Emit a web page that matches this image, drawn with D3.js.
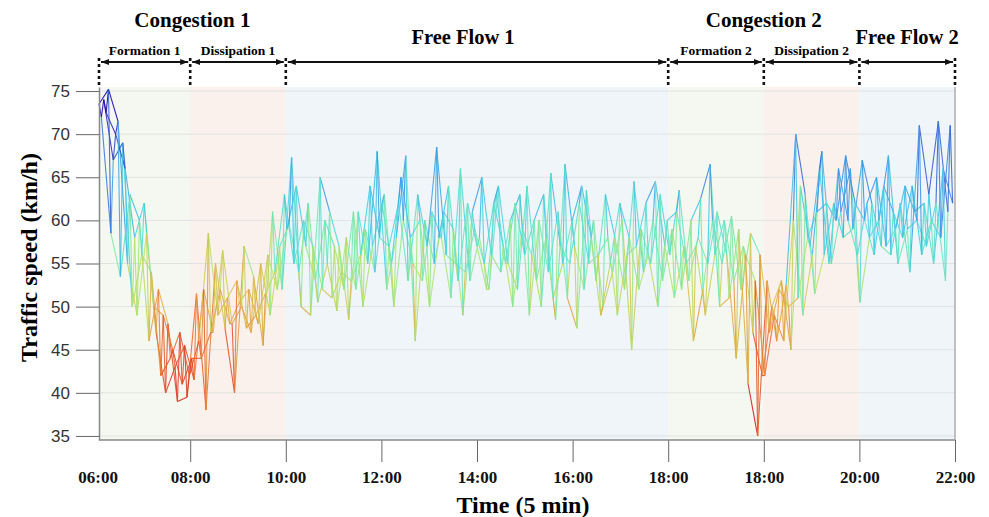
<!DOCTYPE html>
<html>
<head>
<meta charset="utf-8">
<script src="https://cdn.jsdelivr.net/npm/d3@7"></script>
<style>
body { margin: 0; background: #fff; }
</style>
</head>
<body>
<svg width="989" height="517"></svg>
<script>
// traffic speed (km/h) for four runs, one value per slot, 10 slots per tick interval
var run1 = [73.5,75.2,71.5,55,49,58.5,47,40,43,45.5, 41.5,52,47,56.5,48,50,47,55,49,57,
    59.5,54,62,50.5,55,49.5,58,52,59,54, 63,50,60,55,53,61,58,51,66,53,
    58,52,64,55,52,64,53,58,48.5,66.5, 57,52,60,50,54,60,45,59,55,63,
    56,63.5,53,58,55,61,56,44,56,53, 42,49,46,60,49,56,68,55,61,66,
    50.5,58,60,67.5,55,59,60,57,62,53];
var run2 = [72,58.5,53.5,63,60,46,52,48,39,39.5, 51.5,38,55,47.5,40,57,53.5,45.5,61,52,
    67.3,50,49,65,61,57,48.5,61,55,68, 52,58,67.5,46,60,55,61,59,49,61,
    65,56,54,60,63,49,60,54,61,51, 47.5,63.5,53,63,58,52,64.5,54,60,53,
    59,52,60,62.5,66.5,50,51,59,41,35, 53,46,52.5,70,63,51.5,56,62,58,59,
    67,62,57,56,62,54,71,63,71.5,61];
var run3 = [74,67,69,50,56,54,42,44,47,42, 46,58.5,49,51,53,47.5,49,51.5,54,63,
    55,60,57,52,51,54,53,56,64,58, 57,62,53,63,57,68.5,56,55,54,59,
    55,62,57,50,59,56,50,65.5,57,55, 62,55,56,58,49,56,57,62,64.5,57,
    51,57,46,52,60,55,60.5,52,58.5,56, 47,52,50,51,58,61,62,60,67.5,62,
    60,56,64,61,58,64,56,60,58,71];
var run4 = [72.5,70,66,58,62,50,49,45,41,44, 44,47,52,48,50.5,52,48,56,52,59,
    64,57,53,60,57,52,61,50,57,62, 55,65,58,60,50,58,64,53,62,57,
    52,63,55,62,56,60,63,51,55,60, 64,58,49,55,62,58,52,56,50,60,
    61,55,57,49,56,60,53,57,47,42, 50,53,45,64,57,66,55,66,60,56,
    62,65,57,59,64,61,62,55,66,62];

var timeLabels = ['06:00','08:00','10:00','12:00','14:00','16:00','18:00','18:00','20:00','22:00'];
var yTicks = [35, 40, 45, 50, 55, 60, 65, 70, 75];

var phaseNames = ['Formation 1','Dissipation 1','Free Flow 1','Formation 2','Dissipation 2','Free Flow 2'];
var phaseKinds = ['formation','dissipation','free','formation','dissipation','free'];
var phaseBounds = [0, 10, 20, 60, 70, 80, 90];
var groupNames = ['Congestion 1','Congestion 2'];
var groupBounds = [[0, 20], [60, 80]];

var svg = d3.select('svg');
var plotLeft = 99;
var xScale = d3.scaleLinear().domain([0, 90]).range([94.6, 955]);
var yScale = d3.scaleLinear().domain([34.53, 75.47]).range([440, 87]);
var plotRight = xScale.range()[1];
var plotTop = yScale.range()[1];
var plotBottom = yScale.range()[0];

// clamp a tick-unit position to the visible plot
function px(t) { return Math.max(plotLeft, xScale(t)); }

var bandFill = { formation: '#f4f8f1', dissipation: '#fbf1ec', free: '#eff5f9' };

// jet-like ramp, slow = red, fast = blue
var colorScale = d3.scaleLinear()
    .domain([38, 43, 47, 51, 54, 57, 60, 64, 70])
    .range(['#d01e1e','#e04428','#e87d36','#dcbc48','#aee46c','#6ee8b4','#40d2e4','#3a8ae0','#2a30c0']);

// background bands per phase
svg.append('g').selectAll('rect')
    .data(phaseNames)
    .enter().append('rect')
    .attr('x', (d, i) => px(phaseBounds[i]))
    .attr('y', plotTop)
    .attr('width', (d, i) => px(phaseBounds[i + 1]) - px(phaseBounds[i]))
    .attr('height', plotBottom - plotTop)
    .attr('fill', (d, i) => bandFill[phaseKinds[i]]);

// horizontal grid
svg.append('g').selectAll('line')
    .data(yTicks)
    .enter().append('line')
    .attr('x1', plotLeft).attr('x2', plotRight)
    .attr('y1', d => yScale(d)).attr('y2', d => yScale(d))
    .attr('stroke', '#e2e2e2').attr('stroke-width', 1);

// slot positions start at the left edge of the plot
var runs = [run1, run2, run3, run4];
var tStart = xScale.invert(plotLeft);
var slot = (90 - tStart) / run1.length;

// each run on its own, plus the runs threaded slot by slot
var segments = [];
runs.forEach(function(run, k) {
    var pts = run.map((v, i) => ({ t: tStart + (i + k / runs.length) * slot, v: v }));
    segments = segments.concat(d3.pairs(pts));
});
var threaded = [];
for (var i = 0; i < run1.length; i++) {
    for (var k = 0; k < runs.length; k++) {
        threaded.push({ t: tStart + (i + k / runs.length) * slot, v: runs[k][i] });
    }
}
segments = segments.concat(d3.pairs(threaded));

svg.append('g').selectAll('line')
    .data(segments)
    .enter().append('line')
    .attr('x1', d => xScale(d[0].t)).attr('y1', d => yScale(d[0].v))
    .attr('x2', d => xScale(d[1].t)).attr('y2', d => yScale(d[1].v))
    .attr('stroke', d => colorScale((d[0].v + d[1].v) / 2))
    .attr('stroke-width', 1.1)
    .attr('stroke-opacity', 0.88);

// axes
var xAxis = svg.append('g')
    .attr('transform', 'translate(0,' + plotBottom + ')')
    .call(d3.axisBottom(xScale)
        .tickValues(d3.range(0, 91, 10))
        .tickFormat((d, i) => timeLabels[i])
        .tickSize(22).tickPadding(9).tickSizeOuter(0));
xAxis.select('.domain').remove();
xAxis.selectAll('.tick line').attr('stroke', '#666')
    .attr('stroke-opacity', d => d === 0 ? 0 : 1);
xAxis.selectAll('text')
    .attr('dx', d => d === 0 ? 3 : 0)
    .style('font-family', '"Liberation Serif", serif')
    .style('font-weight', 'bold')
    .style('font-size', '17px')
    .attr('fill', '#111');

svg.append('line')
    .attr('x1', plotLeft).attr('x2', plotRight)
    .attr('y1', plotBottom).attr('y2', plotBottom)
    .attr('stroke', '#888').attr('stroke-width', 1.5);

var yAxis = svg.append('g')
    .attr('transform', 'translate(' + plotLeft + ',0)')
    .call(d3.axisLeft(yScale).tickValues(yTicks).tickSize(23).tickPadding(6).tickSizeOuter(0));
yAxis.select('.domain').attr('stroke', '#888').attr('stroke-width', 1.5);
yAxis.selectAll('.tick line').attr('stroke', '#666');
yAxis.selectAll('text')
    .style('font-family', '"Liberation Sans", Arial, sans-serif')
    .style('font-size', '17px')
    .attr('fill', '#333');

// right border
svg.append('line')
    .attr('x1', plotRight).attr('x2', plotRight)
    .attr('y1', plotTop).attr('y2', plotBottom)
    .attr('stroke', '#999').attr('stroke-width', 1.2);

// axis titles
svg.append('text')
    .attr('transform', 'translate(37,' + (yScale(55) - 6) + ')rotate(-90)')
    .attr('text-anchor', 'middle')
    .style('font-family', '"Liberation Serif", serif')
    .style('font-weight', 'bold')
    .style('font-size', '24px')
    .text('Traffic speed (km/h)');

svg.append('text')
    .attr('x', (plotLeft + plotRight) / 2 - 4)
    .attr('y', 513)
    .attr('text-anchor', 'middle')
    .style('font-family', '"Liberation Serif", serif')
    .style('font-weight', 'bold')
    .style('font-size', '24px')
    .text('Time (5 min)');

// phase arrows and dashed separators
svg.append('defs').append('marker')
    .attr('id', 'arrow')
    .attr('viewBox', '0 0 8 6')
    .attr('refX', 8).attr('refY', 3)
    .attr('markerWidth', 8).attr('markerHeight', 6)
    .attr('markerUnits', 'userSpaceOnUse')
    .attr('orient', 'auto-start-reverse')
    .append('path').attr('d', 'M0,0L8,3L0,6Z').attr('fill', '#111');

var arrowY = 62;
svg.append('g').selectAll('line')
    .data(phaseNames)
    .enter().append('line')
    .attr('x1', (d, i) => px(phaseBounds[i]) + 2)
    .attr('x2', (d, i) => px(phaseBounds[i + 1]) - 2)
    .attr('y1', arrowY).attr('y2', arrowY)
    .attr('stroke', '#111').attr('stroke-width', 2)
    .attr('marker-start', 'url(#arrow)')
    .attr('marker-end', 'url(#arrow)');

svg.append('g').selectAll('line')
    .data(phaseBounds)
    .enter().append('line')
    .attr('x1', d => px(d)).attr('x2', d => px(d))
    .attr('y1', arrowY - 4).attr('y2', plotTop)
    .attr('stroke', '#111').attr('stroke-width', 2.6)
    .attr('stroke-dasharray', '3,3');

svg.append('g').selectAll('text')
    .data(phaseNames)
    .enter().append('text')
    .attr('x', (d, i) => (px(phaseBounds[i]) + px(phaseBounds[i + 1])) / 2 + (d === 'Free Flow 1' ? -14 : 0))
    .attr('y', (d, i) => phaseKinds[i] === 'free' ? 44 : 55)
    .attr('text-anchor', 'middle')
    .style('font-family', '"Liberation Serif", serif')
    .style('font-weight', 'bold')
    .style('font-size', (d, i) => phaseKinds[i] === 'free' ? '20.5px' : '13.5px')
    .text(d => d);

svg.append('g').selectAll('text')
    .data(groupNames)
    .enter().append('text')
    .attr('x', (d, i) => (px(groupBounds[i][0]) + px(groupBounds[i][1])) / 2)
    .attr('y', 27)
    .attr('text-anchor', 'middle')
    .style('font-family', '"Liberation Serif", serif')
    .style('font-weight', 'bold')
    .style('font-size', '21px')
    .text(d => d);
</script>
</body>
</html>
